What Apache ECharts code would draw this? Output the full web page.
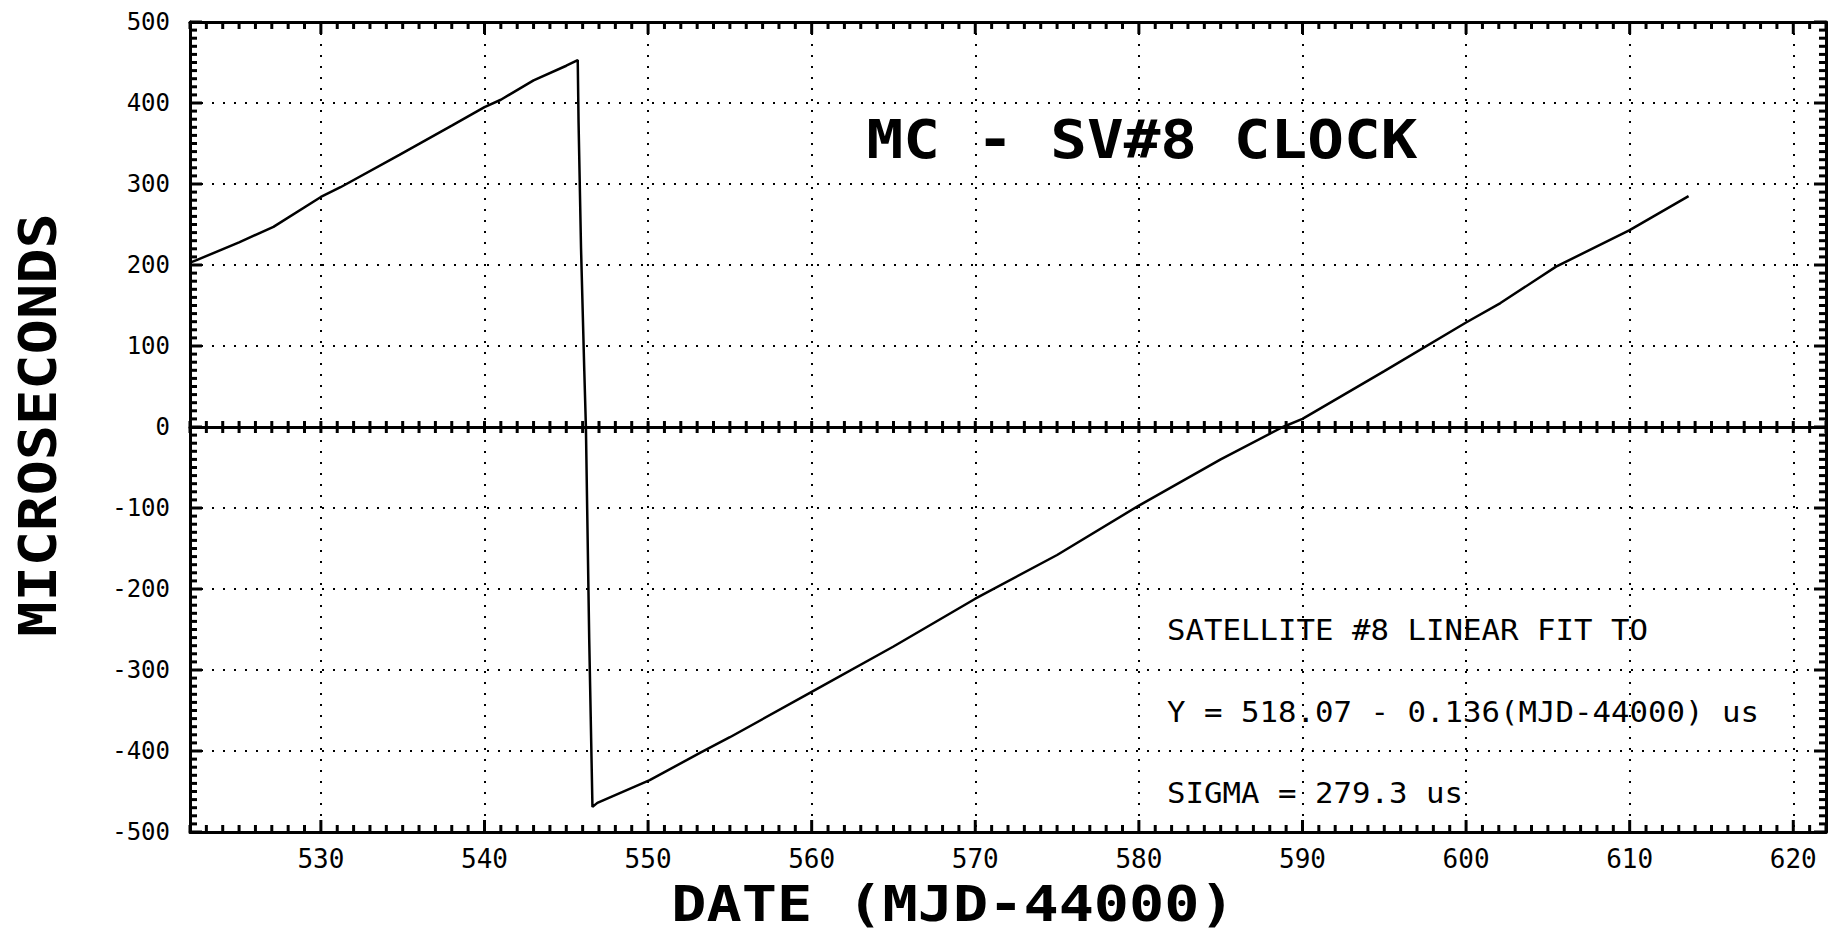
<!DOCTYPE html>
<html>
<head>
<meta charset="utf-8">
<script src="https://cdn.jsdelivr.net/npm/echarts@6/dist/echarts.min.js"></script>
<style>
html,body{margin:0;padding:0;background:#fff;}
#chart{width:1833px;height:940px;}
</style>
</head>
<body>
<div id="chart"></div>
<script>
// Data (MJD-44000 vs microseconds)
const dates  = [522.0, 522.4, 525.0, 527.1, 530.0, 531.2, 534.8, 538.0, 540.0, 541.0, 543.0, 545.0, 545.7,
                545.75, 545.9, 546.1, 546.2, 546.4, 546.6, 546.9,
                550.1, 553.2, 555.0, 560.0, 565.0, 570.0, 575.0, 580.0, 585.0, 588.8, 590.0,
                595.0, 600.0, 602.1, 605.5, 610.0, 613.6];
const micros = [203, 206, 228, 247, 284, 296, 336, 372, 395, 404, 428, 446, 453,
                377, 222, 70, 0, -260, -469, -464,
                -436, -402, -383, -327, -271, -212, -158, -97, -40, 0, 10,
                69, 129, 153, 198, 243, 285];
const xRange = [522, 622];
const yRange = [-500, 500];
const yStep = 100;
const titleText = 'MC - SV#8 CLOCK';
const noteLines = ['SATELLITE #8 LINEAR FIT TO', 'Y = 518.07 - 0.136(MJD-44000) us', 'SIGMA = 279.3 us'];
const xName = 'DATE (MJD-44000)';
const yName = 'MICROSECONDS';

const seriesData = dates.map((d, i) => [d, micros[i]]);
const FONT = '"DejaVu Sans Mono", "Liberation Mono", monospace';
const BLACK = '#000';
const dotted = {color: BLACK, type: [2, 9], width: 2};

// Axis tick decoration: positions come from the axis scales via api.coord
const MAJ = 12, MIN = 7, ZL = 6, TW = 3;
const xMinorVals = [];
const xMajorVals = [];
const yMinorVals = [];
const yMajorVals = [];
for (let v = xRange[0]; v <= xRange[1]; v += 1) {
  if (v % 10 === 0) { xMajorVals.push(v); } else { xMinorVals.push(v); }
}
for (let v = yRange[0]; v <= yRange[1]; v += 10) {
  if (v % 100 === 0) { yMajorVals.push(v); } else { yMinorVals.push(v); }
}
// [kind, value, length]  kind: 0 bottom, 1 top, 2 zero line, 3 left, 4 right
const tickItems = [];
xMinorVals.forEach(v => { tickItems.push([0, v, MIN]); tickItems.push([1, v, MIN]); tickItems.push([2, v, ZL]); });
xMajorVals.forEach(v => { tickItems.push([0, v, MAJ]); tickItems.push([1, v, MAJ]); tickItems.push([2, v, ZL]); });
yMinorVals.forEach(v => { tickItems.push([3, v, MIN]); tickItems.push([4, v, MIN]); });
yMajorVals.forEach(v => { tickItems.push([3, v, MAJ]); tickItems.push([4, v, MAJ]); });

function renderTick(params, api) {
  const kind = api.value(0), v = api.value(1), len = api.value(2);
  let p, shape;
  if (kind === 0) { p = api.coord([v, yRange[0]]); shape = {x1: p[0], y1: p[1], x2: p[0], y2: p[1] - len}; }
  else if (kind === 1) { p = api.coord([v, yRange[1]]); shape = {x1: p[0], y1: p[1], x2: p[0], y2: p[1] + len}; }
  else if (kind === 2) { p = api.coord([v, 0]); shape = {x1: p[0], y1: p[1] - len, x2: p[0], y2: p[1] + len}; }
  else if (kind === 3) { p = api.coord([xRange[0], v]); shape = {x1: p[0], y1: p[1], x2: p[0] + len, y2: p[1]}; }
  else { p = api.coord([xRange[1], v]); shape = {x1: p[0], y1: p[1], x2: p[0] - len, y2: p[1]}; }
  return {type: 'line', shape: shape, style: {stroke: BLACK, lineWidth: TW, fill: null}};
}

const chart = echarts.init(document.getElementById('chart'), null, {renderer: 'svg'});
chart.setOption({
  animation: false,
  backgroundColor: '#fff',
  grid: {left: 190, right: 7, top: 22, bottom: 108, show: false},
  xAxis: [
    {
      type: 'value', min: xRange[0], max: xRange[1], splitNumber: 10, position: 'bottom',
      axisLine: {show: true, onZero: false, lineStyle: {color: BLACK, width: 3}},
      axisTick: {show: false},
      axisLabel: {showMinLabel: false, showMaxLabel: false, color: BLACK, fontFamily: FONT, fontSize: 26, margin: 14},
      splitLine: {show: true, lineStyle: dotted}
    },
    {
      type: 'value', min: xRange[0], max: xRange[1], position: 'top',
      axisLine: {show: true, onZero: false, lineStyle: {color: BLACK, width: 3}},
      axisTick: {show: false}, axisLabel: {show: false}, splitLine: {show: false}
    },
    {
      type: 'value', min: xRange[0], max: xRange[1], position: 'bottom',
      axisLine: {show: true, onZero: true, lineStyle: {color: BLACK, width: 3}},
      axisTick: {show: false}, axisLabel: {show: false}, splitLine: {show: false}
    }
  ],
  yAxis: [
    {
      type: 'value', min: yRange[0], max: yRange[1], interval: yStep, position: 'left',
      axisLine: {show: true, onZero: false, lineStyle: {color: BLACK, width: 3}},
      axisTick: {show: false},
      axisLabel: {color: BLACK, fontFamily: FONT, fontSize: 24, margin: 20},
      splitLine: {show: true, lineStyle: dotted}
    },
    {
      type: 'value', min: yRange[0], max: yRange[1], interval: yStep, position: 'right',
      axisLine: {show: true, onZero: false, lineStyle: {color: BLACK, width: 3}},
      axisTick: {show: false}, axisLabel: {show: false}, splitLine: {show: false}
    }
  ],
  series: [
    {
      type: 'line', xAxisIndex: 0, yAxisIndex: 0, data: seriesData,
      showSymbol: false, symbol: 'none',
      lineStyle: {color: BLACK, width: 2.5}, z: 3
    },
    {
      type: 'custom', xAxisIndex: 0, yAxisIndex: 0, data: tickItems,
      dimensions: ['kind', 'val', 'len'],
      encode: {x: 'val', y: 'val'}, renderItem: renderTick, clip: false, silent: true, z: 5
    }
  ],
  graphic: [
    {type: 'text', x: 1142, y: 140, scaleX: 1.13, style: {text: titleText, font: 'bold 54px ' + FONT, fill: BLACK, textAlign: 'center', textVerticalAlign: 'middle'}},
    {type: 'text', x: 1167, y: 630, scaleX: 1.06, style: {text: noteLines[0], font: '29px ' + FONT, fill: BLACK, textAlign: 'left', textVerticalAlign: 'middle'}},
    {type: 'text', x: 1167, y: 712, scaleX: 1.06, style: {text: noteLines[1], font: '29px ' + FONT, fill: BLACK, textAlign: 'left', textVerticalAlign: 'middle'}},
    {type: 'text', x: 1167, y: 793, scaleX: 1.06, style: {text: noteLines[2], font: '29px ' + FONT, fill: BLACK, textAlign: 'left', textVerticalAlign: 'middle'}},
    {type: 'text', x: 953, y: 904, scaleX: 1.17, style: {text: xName, font: 'bold 50px ' + FONT, fill: BLACK, textAlign: 'center', textVerticalAlign: 'middle'}},
    {type: 'text', x: 38, y: 425, rotation: Math.PI / 2, scaleX: 1.15, style: {text: yName, font: 'bold 51px ' + FONT, fill: BLACK, textAlign: 'center', textVerticalAlign: 'middle'}}
  ]
});
</script>
</body>
</html>
